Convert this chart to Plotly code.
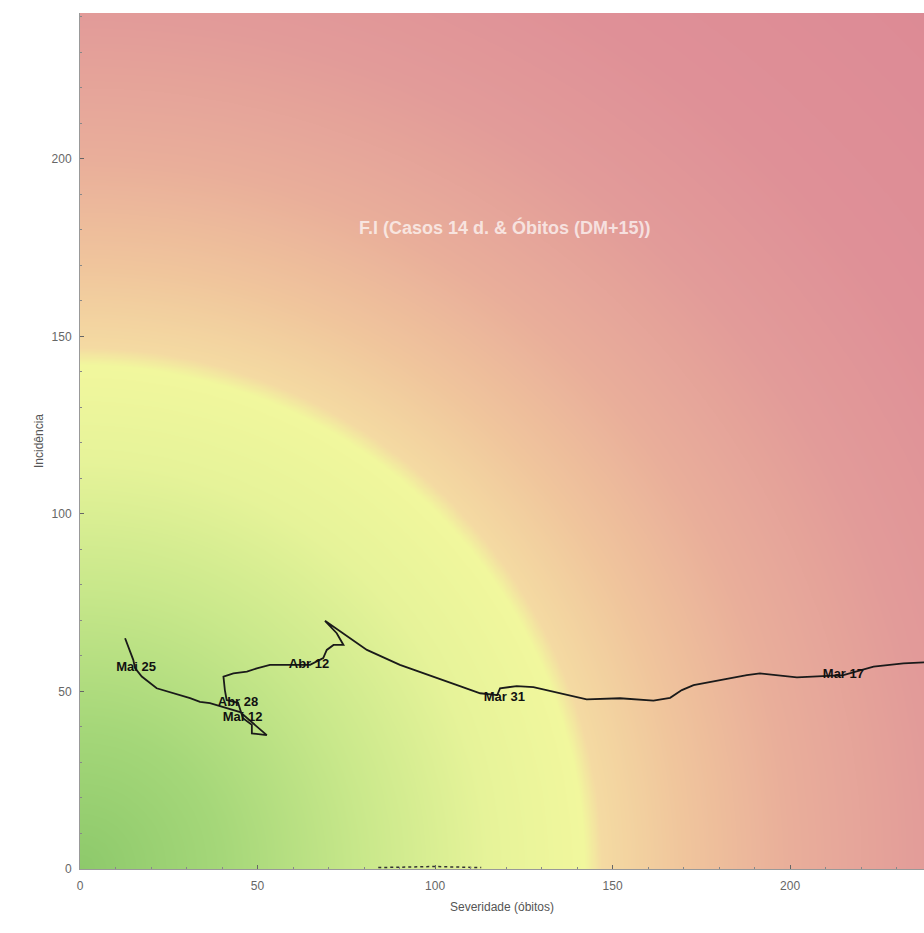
import numpy as np
import plotly.graph_objects as go

# Trajetória (severidade = óbitos, incidência), em ordem temporal
severidade = [239.4, 231.9, 223.5, 215.0, 201.9, 191.5, 187.8, 180.3, 172.8, 169.5,
              166.2, 161.5, 152.1, 142.7, 135.2, 127.7, 123.0, 118.3, 117.5, 112.7,
              107.0, 99.5, 90.1, 80.8, 74.2, 69.0, 72.3, 74.2, 71.4, 69.5,
              68.5, 64.8, 57.3, 53.5, 49.8, 47.0, 43.2, 40.4, 40.8, 41.3,
              44.5, 45.9, 48.4, 48.4, 52.6, 45.1, 36.6, 33.8, 31.0, 25.4,
              21.6, 17.4, 15.5, 15.0, 12.7]
incidencia = [58.3, 57.9, 57.0, 54.6, 54.0, 55.1, 54.6, 53.2, 51.8, 50.4,
              48.2, 47.4, 48.1, 47.8, 49.5, 51.2, 51.5, 50.9, 49.0, 49.5,
              51.5, 54.2, 57.5, 61.7, 66.4, 69.9, 66.4, 63.1, 63.1, 61.7,
              59.4, 57.5, 57.5, 57.5, 56.5, 55.6, 55.1, 54.2, 50.4, 47.6,
              46.8, 42.5, 40.6, 38.2, 37.7, 44.2, 46.7, 47.1, 48.1, 49.9,
              50.9, 54.2, 56.6, 58.9, 65.0]

# Rótulos de datas
rotulos = ["Mar 17", "Mar 31", "Abr 12", "Abr 28", "Mai 12", "Mai 25"]
rot_sev = [215.0, 119.5, 64.5, 44.5, 45.8, 15.8]
rot_inc = [54.6, 48.3, 57.5, 46.8, 42.5, 56.6]

# Pequeno traço junto ao eixo x
extra_sev = [84.0, 92.0, 100.0, 108.0, 113.0]
extra_inc = [0.4, 0.6, 0.7, 0.5, 0.4]

titulo = "F.I (Casos 14 d. & Óbitos (DM+15))"

x_max = 237.7
y_max = 241.1

# Fundo em gradiente radial
gx = np.linspace(0, 240, 241)
gy = np.linspace(0, 243, 244)
GX, GY = np.meshgrid(gx, gy)
R = np.sqrt(GX ** 2 + GY ** 2)
rmax = 345.0
stops = [(0, "#8dc96b"), (40, "#a5d779"), (80, "#c9e88b"), (115, "#e6f399"),
         (142, "#f1f79d"), (147, "#f4daa2"), (170, "#f0c59c"), (200, "#e9ae9a"),
         (240, "#e29b99"), (280, "#df9097"), (345, "#dc8a95")]
colorscale = [[s / rmax, c] for s, c in stops]

fig = go.Figure()
fig.add_trace(go.Heatmap(x=gx, y=gy, z=R, zmin=0, zmax=rmax, colorscale=colorscale,
                         showscale=False, zsmooth="best", hoverinfo="skip"))
fig.add_trace(go.Scatter(x=severidade, y=incidencia, mode="lines",
                         line=dict(color="#1a1a1a", width=1.8), showlegend=False))
fig.add_trace(go.Scatter(x=extra_sev, y=extra_inc, mode="lines",
                         line=dict(color="#333333", width=1.5, dash="dot"), showlegend=False))
fig.add_trace(go.Scatter(x=rot_sev, y=rot_inc, mode="text", text=rotulos,
                         textfont=dict(family="Liberation Sans", size=13, color="#111111"),
                         texttemplate="<b>%{text}</b>", showlegend=False))

fig.add_annotation(x=119.7, y=180.6, text="<b>" + titulo + "</b>", showarrow=False,
                   font=dict(family="Liberation Sans", size=18, color="rgba(255,255,255,0.7)"))

axis_common = dict(showgrid=False, zeroline=False, showline=True, linecolor="#999999",
                   linewidth=1, ticks="inside", ticklen=4, tickcolor="#666666",
                   tickfont=dict(family="Liberation Sans", size=12, color="#666666"),
                   minor=dict(ticks="inside", ticklen=2, tickcolor="#888888", dtick=10))

fig.update_xaxes(range=[0, x_max], dtick=50, ticklabelstandoff=6, **axis_common,
                 title=dict(text="Severidade (óbitos)", standoff=10,
                            font=dict(family="Liberation Sans", size=12, color="#555555")))
fig.update_yaxes(range=[0, y_max], dtick=50, ticklabelstandoff=5, **axis_common,
                 title=dict(text="Incidência", standoff=5,
                            font=dict(family="Liberation Sans", size=12, color="#555555")))

fig.update_layout(width=924, height=930, margin=dict(l=80, r=0, t=13, b=61),
                  paper_bgcolor="white", plot_bgcolor="white")

fig.write_html("out.html", config={"displayModeBar": False},
               post_script="document.body.style.margin='0';document.body.style.overflow='hidden';")
